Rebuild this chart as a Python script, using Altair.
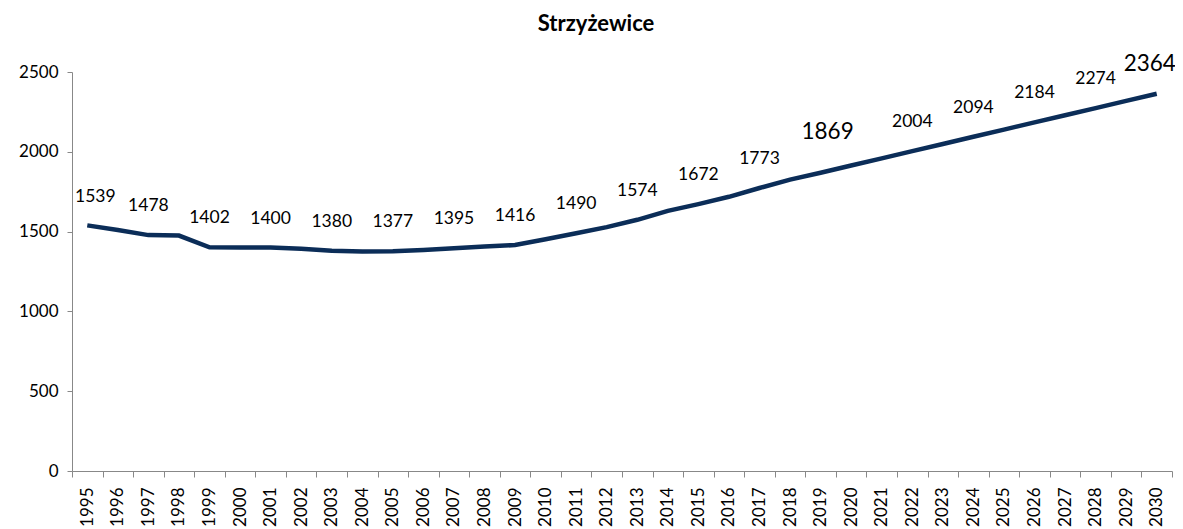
import altair as alt
import pandas as pd

years = [str(y) for y in range(1995, 2031)]
values = [1539, 1510, 1478, 1475, 1402, 1401, 1400, 1393, 1380, 1375, 1377, 1385,
          1395, 1406, 1416, 1452, 1490, 1528, 1574, 1630, 1672, 1718, 1773, 1826,
          1869, 1914, 1959, 2004, 2049, 2094, 2139, 2184, 2229, 2274, 2319, 2364]
first_label_years = ["1995"]
label_years = ["1997", "1999", "2001", "2003", "2005", "2007", "2009", "2011",
               "2013", "2015", "2017", "2022", "2024", "2026", "2028"]
big_mid_years = ["2019"]
big_end_years = ["2030"]
title_text = ["Strzyżewice"]

df = pd.DataFrame({"year": years, "value": values})
df_title = pd.DataFrame({"t": title_text})

FONT = "Lato"
x_enc = alt.X("year:N", sort=years, title=None,
              scale=alt.Scale(paddingInner=0, paddingOuter=0),
              axis=alt.Axis(labelAngle=-90, labelAlign="right", labelBaseline="middle",
                            labelFontSize=17, labelColor="black", labelFont=FONT,
                            tickBand="extent", domainColor="#888888", tickColor="#888888",
                            tickSize=6, labelPadding=10))
y_enc = alt.Y("value:Q", title=None,
              scale=alt.Scale(domain=[0, 2500], nice=False),
              axis=alt.Axis(values=[0, 500, 1000, 1500, 2000, 2500], grid=False, format="d",
                            labelFontSize=17, labelColor="black", labelFont=FONT,
                            domainColor="#888888", tickColor="#888888", tickSize=5,
                            labelPadding=9))

line = alt.Chart(df).mark_line(color="#0b2d58", strokeWidth=4.5).encode(x=x_enc, y=y_enc)


def label_layer(yrs, size, dx, dy):
    return alt.Chart(df[df["year"].isin(yrs)]).mark_text(
        font=FONT, fontSize=size, dx=dx, dy=dy, color="black", baseline="alphabetic"
    ).encode(x=alt.X("year:N", sort=years), y="value:Q", text="value:Q")


labels_first = label_layer(first_label_years, 17.5, 8, -23)
labels = label_layer(label_years, 17.5, 0, -24)
big_mid = label_layer(big_mid_years, 22.5, 7, -34)
big_end = label_layer(big_end_years, 22.5, -7, -23)

title = alt.Chart(df_title).mark_text(font=FONT, fontSize=22, fontWeight="bold",
                                      color="black", baseline="alphabetic").encode(
    x=alt.value(524), y=alt.value(-41), text="t:N")

chart = (line + labels_first + labels + big_mid + big_end + title).properties(
    width=1100, height=399,
    autosize=alt.AutoSizeParams(type="none"),
    padding={"left": 64, "top": 64, "right": 3, "bottom": 56},
).configure_view(stroke=None)

chart.save("out.html", embed_options={"renderer": "svg", "actions": False})
